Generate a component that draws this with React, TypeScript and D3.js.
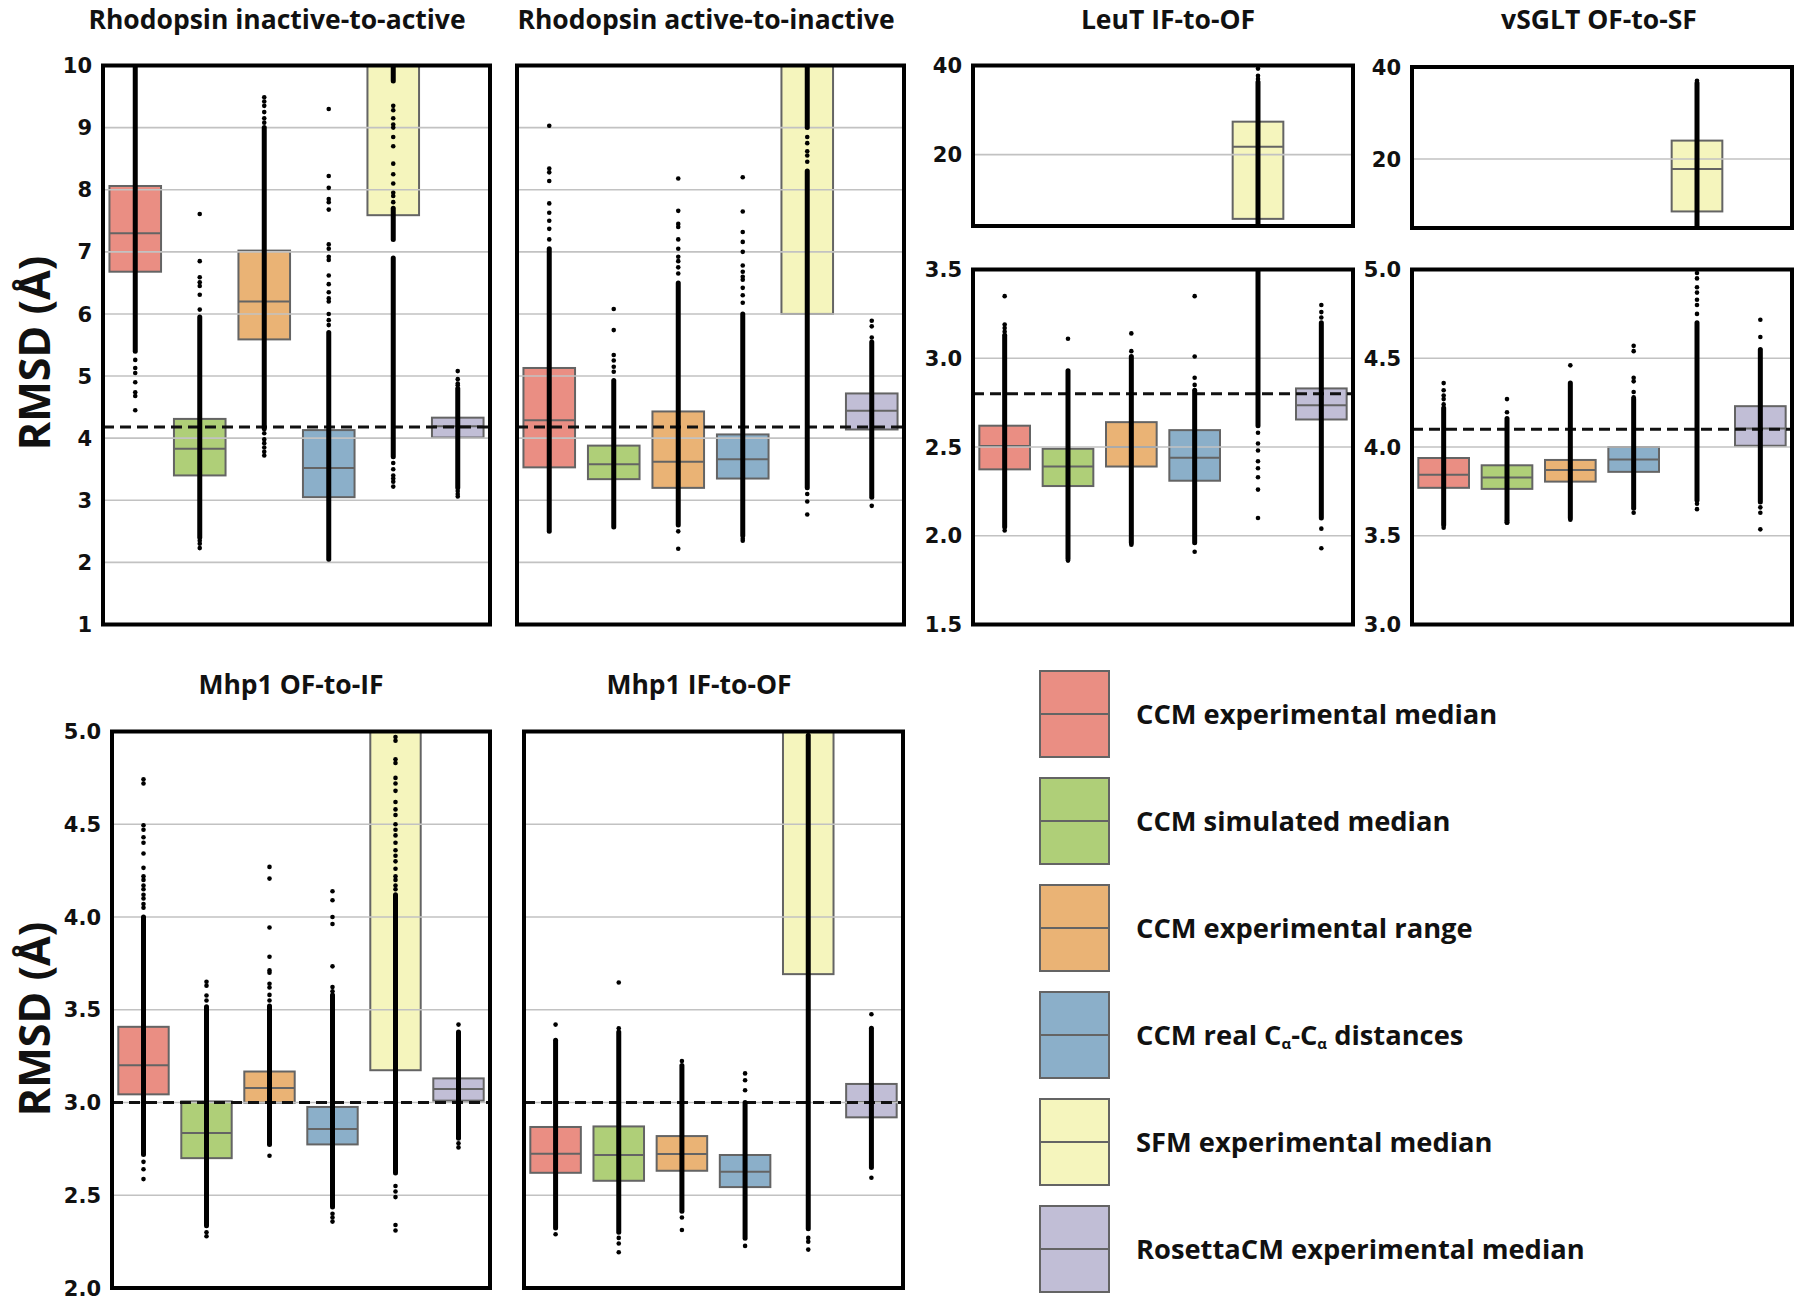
import React from 'react';
import * as d3 from 'd3';

// ---------- shared categories / styling data ----------
const categories = [
  'CCM experimental median',
  'CCM simulated median',
  'CCM experimental range',
  'CCM real Cα-Cα distances',
  'SFM experimental median',
  'RosettaCM experimental median',
];
const boxColors = ['#EA8E83', '#AFCF78', '#EAB375', '#8BAFC9', '#F5F5BD', '#C1BED6'];

// ---------- Rhodopsin inactive-to-active ----------
const rhoIAQ1 = [6.68, 3.40, 5.59, 3.05, 7.59, 4.01];
const rhoIAMed = [7.30, 3.83, 6.20, 3.52, 11.8, 4.19];
const rhoIAQ3 = [8.06, 4.31, 7.02, 4.13, 14.5, 4.33];
const rhoIADense = [
  [[5.40, 10.5]],
  [[2.40, 5.95]],
  [[4.15, 9.00]],
  [[2.05, 5.70]],
  [[3.70, 6.90], [7.20, 7.70], [9.75, 10.5]],
  [[3.20, 4.80]],
];
const rhoIAPoints = [
  [5.26, 5.13, 5.05, 4.90, 4.74, 4.68, 4.45],
  [7.61, 6.85, 6.59, 6.51, 6.45, 6.31, 6.07, 2.35, 2.30, 2.23],
  [9.49, 9.42, 9.35, 9.25, 9.15, 9.08, 4.08, 3.98, 3.92, 3.85, 3.78, 3.72],
  [9.30, 8.22, 8.03, 7.85, 7.80, 7.68, 7.12, 7.05, 6.92, 6.87, 6.62, 6.48, 6.35, 6.25, 6.20, 6.00, 5.90, 5.82],
  [9.35, 9.28, 9.15, 9.05, 9.00, 8.85, 8.70, 8.42, 8.25, 8.10, 7.95, 7.90, 7.80, 3.60, 3.50, 3.40, 3.35, 3.30, 3.22],
  [5.08, 4.95, 4.88, 4.85, 3.15, 3.10, 3.06],
];
const rhoIARef = 4.18;

// ---------- Rhodopsin active-to-inactive ----------
const rhoAIQ1 = [3.53, 3.34, 3.20, 3.35, 6.00, 4.14];
const rhoAIMed = [4.29, 3.58, 3.62, 3.66, 11.2, 4.44];
const rhoAIQ3 = [5.13, 3.88, 4.43, 4.06, 14.0, 4.72];
const rhoAIDense = [
  [[2.50, 7.05]],
  [[2.57, 4.93]],
  [[2.60, 6.50]],
  [[2.43, 6.00]],
  [[3.20, 8.30], [9.00, 10.5]],
  [[3.05, 5.55]],
];
const rhoAIPoints = [
  [9.03, 8.34, 8.28, 8.14, 7.78, 7.63, 7.50, 7.37, 7.20],
  [6.08, 5.74, 5.34, 5.25, 5.15, 5.07],
  [8.18, 7.66, 7.45, 7.40, 7.20, 7.05, 6.92, 6.85, 6.75, 6.65, 2.50, 2.22],
  [8.20, 7.65, 7.32, 7.16, 7.00, 6.78, 6.68, 6.60, 6.55, 6.42, 6.30, 6.18, 2.38, 2.35],
  [8.85, 8.75, 8.62, 8.55, 8.45, 3.10, 2.98, 2.77],
  [5.89, 5.80, 5.62, 2.91],
];
const rhoAIRef = 4.18;

// ---------- LeuT IF-to-OF ----------
const leuQ1 = [2.374, 2.28, 2.39, 2.31, 5.6, 2.655];
const leuMed = [2.505, 2.39, 2.50, 2.44, 21.8, 2.735];
const leuQ3 = [2.62, 2.49, 2.64, 2.595, 27.4, 2.83];
const leuDense = [
  [[2.05, 3.13]],
  [[1.87, 2.93]],
  [[1.96, 3.01]],
  [[1.96, 2.82]],
  [[2.62, 36.3]],
  [[2.10, 3.20]],
];
const leuPoints = [
  [3.35, 3.19, 3.17, 3.15, 2.03],
  [3.11, 1.86],
  [3.14, 3.04, 1.95],
  [3.35, 3.01, 2.89, 2.85, 1.91],
  [39.3, 37.7, 37.0, 2.58, 2.52, 2.48, 2.42, 2.38, 2.33, 2.26, 2.10],
  [3.30, 3.26, 3.23, 2.04, 1.93],
];
const leuRef = 2.80;

// ---------- vSGLT OF-to-SF ----------
const vsgQ1 = [3.77, 3.764, 3.805, 3.86, 8.6, 4.007];
const vsgMed = [3.844, 3.828, 3.87, 3.93, 17.8, 4.104];
const vsgQ3 = [3.938, 3.897, 3.927, 4.0, 24.0, 4.23];
const vsgDense = [
  [[3.56, 4.22]],
  [[3.575, 4.16]],
  [[3.60, 4.36]],
  [[3.655, 4.27]],
  [[3.70, 4.70], [5.2, 36.5]],
  [[3.69, 4.55]],
];
const vsgPoints = [
  [4.36, 4.32, 4.29, 4.27, 4.24, 3.545],
  [4.27, 4.196, 3.585, 3.575],
  [4.46, 3.59],
  [4.57, 4.54, 4.39, 4.37, 4.31, 4.28, 3.63],
  [37.0, 4.98, 4.95, 4.90, 4.87, 4.83, 4.80, 4.75, 3.68, 3.65],
  [4.717, 4.62, 3.66, 3.63, 3.536],
];
const vsgRef = 4.10;

// ---------- Mhp1 OF-to-IF ----------
const mhpOIQ1 = [3.044, 2.70, 2.999, 2.774, 3.174, 3.01];
const mhpOIMed = [3.201, 2.836, 3.078, 2.857, 5.6, 3.073];
const mhpOIQ3 = [3.408, 3.006, 3.167, 2.976, 8.0, 3.130];
const mhpOIDense = [
  [[2.72, 4.00]],
  [[2.335, 3.516]],
  [[2.774, 3.52]],
  [[2.436, 3.58]],
  [[2.62, 4.12]],
  [[2.807, 3.38]],
];
const mhpOIPoints = [
  [4.742, 4.72, 4.495, 4.47, 4.43, 4.40, 4.342, 4.265, 4.22, 4.20, 4.17, 4.15, 4.12, 4.10, 4.07, 4.05, 2.68, 2.64, 2.587],
  [3.651, 3.63, 3.577, 3.55, 2.30, 2.279],
  [4.27, 4.207, 3.943, 3.786, 3.712, 3.70, 3.64, 3.62, 3.58, 3.55, 2.713],
  [4.139, 4.09, 4.00, 3.962, 3.734, 3.622, 3.60, 2.40, 2.38, 2.358],
  [4.97, 4.95, 4.85, 4.83, 4.75, 4.72, 4.68, 4.62, 4.58, 4.55, 4.50, 4.47, 4.44, 4.40, 4.36, 4.33, 4.30, 4.26, 4.22, 4.20, 4.17, 4.15, 2.55, 2.52, 2.49, 2.34, 2.31],
  [3.42, 2.78, 2.758],
];
const mhpOIRef = 3.0;

// ---------- Mhp1 IF-to-OF ----------
const mhpIOQ1 = [2.621, 2.578, 2.632, 2.544, 3.692, 2.92];
const mhpIOMed = [2.724, 2.717, 2.722, 2.627, 5.5, 3.003];
const mhpIOQ3 = [2.868, 2.871, 2.819, 2.717, 8.0, 3.10];
const mhpIODense = [
  [[2.324, 3.336]],
  [[2.30, 3.38]],
  [[2.414, 3.20]],
  [[2.268, 3.00]],
  [[2.32, 4.98]],
  [[2.65, 3.40]],
];
const mhpIOPoints = [
  [3.42, 2.29],
  [3.647, 3.40, 2.27, 2.24, 2.193],
  [3.224, 2.38, 2.313],
  [3.157, 3.12, 3.066, 2.227],
  [2.27, 2.25, 2.207],
  [3.476, 2.594],
];
const mhpIORef = 3.0;

// ---------- axis tick values ----------
const rhoTicks = [1, 2, 3, 4, 5, 6, 7, 8, 9, 10];
const bigTicks = [20, 40];
const leuTicks = [1.5, 2.0, 2.5, 3.0, 3.5];
const vsgTicks = [3.0, 3.5, 4.0, 4.5, 5.0];
const mhpTicks = [2.0, 2.5, 3.0, 3.5, 4.0, 4.5, 5.0];

const titles = [
  'Rhodopsin inactive-to-active',
  'Rhodopsin active-to-inactive',
  'LeuT IF-to-OF',
  'vSGLT OF-to-SF',
  'Mhp1 OF-to-IF',
  'Mhp1 IF-to-OF',
];

type Frame = { y0: number; y1: number; domain: [number, number]; ticks: number[]; fmt: string; labels: boolean };
type PanelCfg = {
  id: string;
  title: string;
  titleX: number;
  titleY: number;
  x0: number;
  x1: number;
  frames: Frame[];
  q1: number[];
  med: number[];
  q3: number[];
  dense: number[][][];
  points: number[][];
  ref: number;
};

const TOP_Y0 = 65.5;
const TOP_Y1 = 624.5;
const BOT_Y0 = 731.5;
const BOT_Y1 = 1288;

const panels: PanelCfg[] = [
  {
    id: 'p1', title: titles[0], titleX: 277, titleY: 28.5, x0: 103, x1: 490,
    frames: [{ y0: TOP_Y0, y1: TOP_Y1, domain: [1, 10], ticks: rhoTicks, fmt: 'd', labels: true }],
    q1: rhoIAQ1, med: rhoIAMed, q3: rhoIAQ3, dense: rhoIADense, points: rhoIAPoints, ref: rhoIARef,
  },
  {
    id: 'p2', title: titles[1], titleX: 706, titleY: 28.5, x0: 517, x1: 904,
    frames: [{ y0: TOP_Y0, y1: TOP_Y1, domain: [1, 10], ticks: rhoTicks, fmt: 'd', labels: false }],
    q1: rhoAIQ1, med: rhoAIMed, q3: rhoAIQ3, dense: rhoAIDense, points: rhoAIPoints, ref: rhoAIRef,
  },
  {
    id: 'p3', title: titles[2], titleX: 1168, titleY: 28.5, x0: 973, x1: 1353,
    frames: [
      { y0: 65.5, y1: 226, domain: [4, 40], ticks: bigTicks, fmt: 'd', labels: true },
      { y0: 269.5, y1: TOP_Y1, domain: [1.5, 3.5], ticks: leuTicks, fmt: '.1f', labels: true },
    ],
    q1: leuQ1, med: leuMed, q3: leuQ3, dense: leuDense, points: leuPoints, ref: leuRef,
  },
  {
    id: 'p4', title: titles[3], titleX: 1599, titleY: 28.5, x0: 1412, x1: 1792,
    frames: [
      { y0: 67, y1: 228, domain: [5, 40], ticks: bigTicks, fmt: 'd', labels: true },
      { y0: 269.5, y1: TOP_Y1, domain: [3.0, 5.0], ticks: vsgTicks, fmt: '.1f', labels: true },
    ],
    q1: vsgQ1, med: vsgMed, q3: vsgQ3, dense: vsgDense, points: vsgPoints, ref: vsgRef,
  },
  {
    id: 'p5', title: titles[4], titleX: 291, titleY: 694, x0: 112, x1: 490,
    frames: [{ y0: BOT_Y0, y1: BOT_Y1, domain: [2, 5], ticks: mhpTicks, fmt: '.1f', labels: true }],
    q1: mhpOIQ1, med: mhpOIMed, q3: mhpOIQ3, dense: mhpOIDense, points: mhpOIPoints, ref: mhpOIRef,
  },
  {
    id: 'p6', title: titles[5], titleX: 699, titleY: 694, x0: 524, x1: 903,
    frames: [{ y0: BOT_Y0, y1: BOT_Y1, domain: [2, 5], ticks: mhpTicks, fmt: '.1f', labels: false }],
    q1: mhpIOQ1, med: mhpIOMed, q3: mhpIOQ3, dense: mhpIODense, points: mhpIOPoints, ref: mhpIORef,
  },
];

const TITLE_FONT = "'Open Sans', 'Noto Sans', sans-serif";
const TICK_FONT = "'DejaVu Sans', Verdana, sans-serif";
const EDGE = '#646464';
const GRID = '#c2c2c2';

function Panel({ cfg }: { cfg: PanelCfg }) {
  const x = d3.scaleBand<string>().domain(categories).range([cfg.x0, cfg.x1]).paddingInner(0.2).paddingOuter(0.1);
  const bw = x.bandwidth();
  return (
    <g>
      <text x={cfg.titleX} y={cfg.titleY} textAnchor="middle" fontFamily={TITLE_FONT} fontWeight={700} fontSize={26.5} fill="#111">
        {cfg.title}
      </text>
      {cfg.frames.map((f, fi) => {
        const y = d3.scaleLinear().domain(f.domain).range([f.y1, f.y0]);
        const clipId = `${cfg.id}-clip-${fi}`;
        const fmt = d3.format(f.fmt);
        const [lo, hi] = f.domain;
        return (
          <g key={fi}>
            <defs>
              <clipPath id={clipId}>
                <rect x={cfg.x0} y={f.y0} width={cfg.x1 - cfg.x0} height={f.y1 - f.y0} />
              </clipPath>
            </defs>
            <g clipPath={`url(#${clipId})`}>
              {categories.map((c, i) => {
                const top = y(cfg.q3[i]);
                const bot = y(cfg.q1[i]);
                return (
                  <g key={c}>
                    <rect x={x(c)} y={top} width={bw} height={bot - top} fill={boxColors[i]} stroke={EDGE} strokeWidth={2} />
                    <line x1={x(c)} x2={(x(c) as number) + bw} y1={y(cfg.med[i])} y2={y(cfg.med[i])} stroke={EDGE} strokeWidth={2} />
                  </g>
                );
              })}
              {f.ticks.filter((t) => t > lo && t < hi).map((t) => (
                <line key={t} x1={cfg.x0} x2={cfg.x1} y1={y(t)} y2={y(t)} stroke={GRID} strokeWidth={1.6} />
              ))}
              {cfg.ref > lo && cfg.ref < hi && (
                <line x1={cfg.x0} x2={cfg.x1} y1={y(cfg.ref)} y2={y(cfg.ref)} stroke="#111" strokeWidth={3} strokeDasharray="11,6" />
              )}
              {categories.map((c, i) => {
                const cx = (x(c) as number) + bw / 2;
                return (
                  <g key={c}>
                    {cfg.dense[i].map((seg, k) => (
                      <line key={k} x1={cx} x2={cx} y1={y(seg[0])} y2={y(seg[1])} stroke="#000" strokeWidth={5} strokeLinecap="round" />
                    ))}
                    {cfg.points[i].map((v, k) => (
                      <circle key={k} cx={cx} cy={y(v)} r={2.3} fill="#000" />
                    ))}
                  </g>
                );
              })}
            </g>
            <rect x={cfg.x0} y={f.y0} width={cfg.x1 - cfg.x0} height={f.y1 - f.y0} fill="none" stroke="#000" strokeWidth={4} />
            {f.labels &&
              f.ticks.map((t) => (
                <text key={t} x={cfg.x0 - 11} y={y(t) + 7.6} textAnchor="end" fontFamily={TICK_FONT} fontWeight={700} fontSize={21} fill="#111">
                  {fmt(t)}
                </text>
              ))}
          </g>
        );
      })}
    </g>
  );
}

function Legend() {
  const top0 = 671;
  const step = 107;
  const w = 69;
  const h = 86;
  const lx = 1040;
  const tx = 1136;
  return (
    <g>
      {categories.map((c, i) => {
        const yTop = top0 + i * step;
        const yc = yTop + h / 2;
        return (
          <g key={c}>
            <rect x={lx} y={yTop} width={w} height={h} fill={boxColors[i]} stroke={EDGE} strokeWidth={2} />
            <line x1={lx} x2={lx + w} y1={yc} y2={yc} stroke={EDGE} strokeWidth={2} />
            <text x={tx} y={yc + 10} fontFamily={TITLE_FONT} fontWeight={700} fontSize={27.3} fill="#111">
              {i === 3 ? (
                <>
                  CCM real C<tspan fontSize={15} dy={4}>α</tspan>
                  <tspan dy={-4}>-C</tspan>
                  <tspan fontSize={15} dy={4}>α</tspan>
                  <tspan dy={-4}> distances</tspan>
                </>
              ) : (
                c
              )}
            </text>
          </g>
        );
      })}
    </g>
  );
}

export default function App() {
  return (
    <svg width={1800} height={1304} style={{ position: 'absolute', left: 0, top: 0, background: '#fff' }}>
      <rect x={0} y={0} width={1800} height={1304} fill="#fff" />
      {panels.map((p) => (
        <Panel key={p.id} cfg={p} />
      ))}
      <text transform="translate(50,353) rotate(-90)" textAnchor="middle" fontFamily={TITLE_FONT} fontWeight={700} fontSize={43} fill="#111">
        RMSD (Å)
      </text>
      <text transform="translate(50,1019) rotate(-90)" textAnchor="middle" fontFamily={TITLE_FONT} fontWeight={700} fontSize={43} fill="#111">
        RMSD (Å)
      </text>
      <Legend />
    </svg>
  );
}
